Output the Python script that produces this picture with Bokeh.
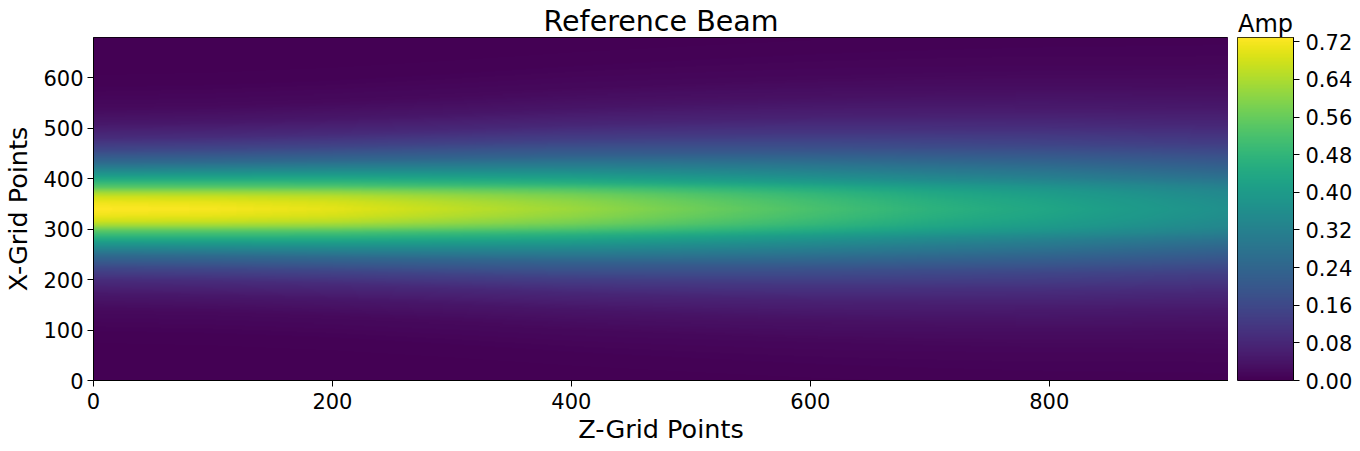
import numpy as np
from bokeh.plotting import figure
from bokeh.models import Range1d, LinearColorMapper, FixedTicker, PrintfTickFormatter
from bokeh.palettes import Viridis256
from bokeh.layouts import row
from bokeh.embed import file_html
from bokeh.resources import INLINE

# ---- data ----
title_text = "Reference Beam"
z_label = "Z-Grid Points"
x_label = "X-Grid Points"
cbar_title = "Amp"

z_extent = 950          # Z-grid points (horizontal)
x_extent = 680          # X-grid points (vertical)
beam_center = 340       # X position of beam axis

# on-axis amplitude and relative transverse width along z
z_samples = [0, 100, 200, 300, 400, 500, 600, 700, 800, 900, 950]
peak_amp = [0.729, 0.72, 0.70, 0.66, 0.62, 0.57, 0.52, 0.47, 0.43, 0.385, 0.365]
width_scale = [1.00, 1.02, 1.06, 1.12, 1.19, 1.25, 1.31, 1.36, 1.40, 1.43, 1.45]

# transverse profile at z = 0 (offset from axis, fraction of peak)
profile_offset = [0, 12, 23, 32, 42, 55, 72, 90, 116, 140, 169, 200, 240, 290]
profile_rel = [1.0, 0.976, 0.93, 0.86, 0.75, 0.64, 0.50, 0.36, 0.22, 0.13, 0.065, 0.028, 0.008, 0.0]

z_ticks = [0, 200, 400, 600, 800]
x_ticks = [0, 100, 200, 300, 400, 500, 600]
amp_ticks = [0.00, 0.08, 0.16, 0.24, 0.32, 0.40, 0.48, 0.56, 0.64, 0.72]
amp_max = 0.729

# ---- build the field on the grid ----
nz, nx = 475, 340
zg = (np.arange(nz) + 0.5) * z_extent / nz
xg = (np.arange(nx) + 0.5) * x_extent / nx
A = np.interp(zg, z_samples, peak_amp)
S = np.interp(zg, z_samples, width_scale)
d = np.abs(xg[:, None] - beam_center) / S[None, :]
field = (A[None, :] * np.interp(d, profile_offset, profile_rel, right=0.0)).astype(np.float32)

mapper = LinearColorMapper(palette=Viridis256, low=0.0, high=amp_max)

FONT = "DejaVu Sans"
TXT = "#000000"


def style_axis(ax, label_standoff=4, axis_standoff=6):
    ax.major_label_text_font = FONT
    ax.major_label_text_font_size = "21px"
    ax.major_label_text_color = TXT
    ax.axis_label_text_font = FONT
    ax.axis_label_text_font_size = "25.5px"
    ax.axis_label_text_font_style = "normal"
    ax.axis_label_text_color = TXT
    ax.major_tick_out = 6
    ax.major_tick_in = 0
    ax.minor_tick_out = 0
    ax.minor_tick_in = 0
    ax.axis_line_color = "black"
    ax.major_tick_line_color = "black"
    ax.major_label_standoff = label_standoff
    ax.axis_label_standoff = axis_standoff


p = figure(frame_width=1135, frame_height=343,
           x_range=Range1d(0, z_extent), y_range=Range1d(0, x_extent),
           min_border_left=86, min_border_right=0, min_border_top=37, min_border_bottom=0,
           title=title_text, output_backend="svg", toolbar_location=None)
p.title.text_font = FONT
p.title.text_font_size = "28.5px"
p.title.text_font_style = "normal"
p.title.text_color = TXT
p.title.align = "center"
p.title.standoff = 0
p.image(image=[field], x=0, y=0, dw=z_extent, dh=x_extent, color_mapper=mapper)
p.grid.visible = False
p.outline_line_color = "black"
p.xaxis.ticker = FixedTicker(ticks=z_ticks)
p.yaxis.ticker = FixedTicker(ticks=x_ticks)
p.xaxis.axis_label = z_label
p.yaxis.axis_label = x_label
style_axis(p.xaxis[0], label_standoff=6, axis_standoff=2)
style_axis(p.yaxis[0], label_standoff=4, axis_standoff=7)

grad = np.linspace(0, amp_max, 256).reshape(256, 1).astype(np.float32)
c = figure(frame_width=56, frame_height=343,
           x_range=Range1d(0, 1), y_range=Range1d(0, amp_max),
           min_border_left=9, min_border_right=0, min_border_top=37, min_border_bottom=60,
           title=cbar_title, x_axis_location=None, y_axis_location="right",
           output_backend="svg", toolbar_location=None)
c.title.text_font = FONT
c.title.text_font_size = "24px"
c.title.text_font_style = "normal"
c.title.text_color = TXT
c.title.align = "center"
c.title.standoff = 0
c.image(image=[grad], x=0, y=0, dw=1, dh=amp_max, color_mapper=mapper)
c.grid.visible = False
c.outline_line_color = "black"
c.yaxis.ticker = FixedTicker(ticks=amp_ticks)
c.yaxis.formatter = PrintfTickFormatter(format="%.2f")
style_axis(c.yaxis[0], label_standoff=6)

layout = row(p, c)
open("out.html", "w").write(file_html(layout, INLINE))
